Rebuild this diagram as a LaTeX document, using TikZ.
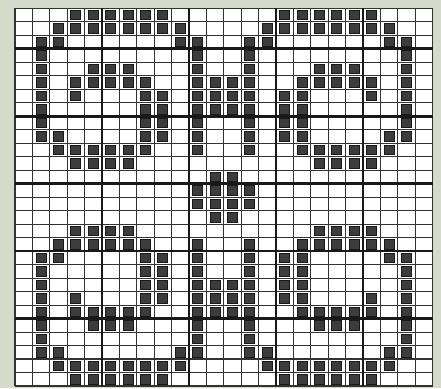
\documentclass[tikz,border=0pt]{standalone}
\usepackage{tikz}
\definecolor{scanbg}{RGB}{214,218,202}
\definecolor{stitch}{RGB}{60,60,60}

\begin{document}
\begin{tikzpicture}[x=1pt, y=-1pt,
    thinline/.style={line width=1.1pt, black!80},
    thickline/.style={line width=2.6pt, black!90},
    stitchbox/.style={fill=stitch, draw=black!90, line width=0.9pt}
]
\useasboundingbox (0,0) rectangle (441,388);
\fill[scanbg] (0,0) rectangle (441,388);
\fill[white] (15,8.3) rectangle (432.6,386);

% grid
\foreach \c in {0,...,24}
    \draw[thinline] ({15+17.4*\c},8.3) -- ({15+17.4*\c},386);
\foreach \r in {0,...,28}
    \draw[thinline] (15,{8.3+13.49*\r}) -- (432.6,{8.3+13.49*\r});
\foreach \c in {5,10,15,20}
    \draw[thickline] ({15+17.4*\c},8.3) -- ({15+17.4*\c},386);
\foreach \r in {3,8,13,18,23}
    \draw[thickline] (15,{8.3+13.49*\r}) -- (432.6,{8.3+13.49*\r});

% filled cells, one quarter, mirrored both ways
\foreach \r/\cl in {0/{3,4,5,6,7,8}, 1/{2,3,4,5,6,7,8,9}, 2/{1,2,9,10},
        3/{1,10}, 4/{1,4,5,6,10}, 5/{1,3,4,5,6,7,10,11},
        6/{1,3,7,8,10,11}, 7/{1,7,8,10,11}, 8/{1,7,8,10},
        9/{1,2,7,8,10}, 10/{2,3,4,5,6,7,10}, 11/{3,4,5,6},
        12/{11}, 13/{10,11}}
    \foreach \c in \cl
        \foreach \cc/\rr in {\c/\r, 23-\c/\r, \c/27-\r, 23-\c/27-\r}
            \filldraw[stitchbox] ({15+17.4*(\cc+0.5)-5},{8.3+13.49*(\rr+0.5)-4.7})
                rectangle ++(10,9.4);

\end{tikzpicture}
\end{document}
